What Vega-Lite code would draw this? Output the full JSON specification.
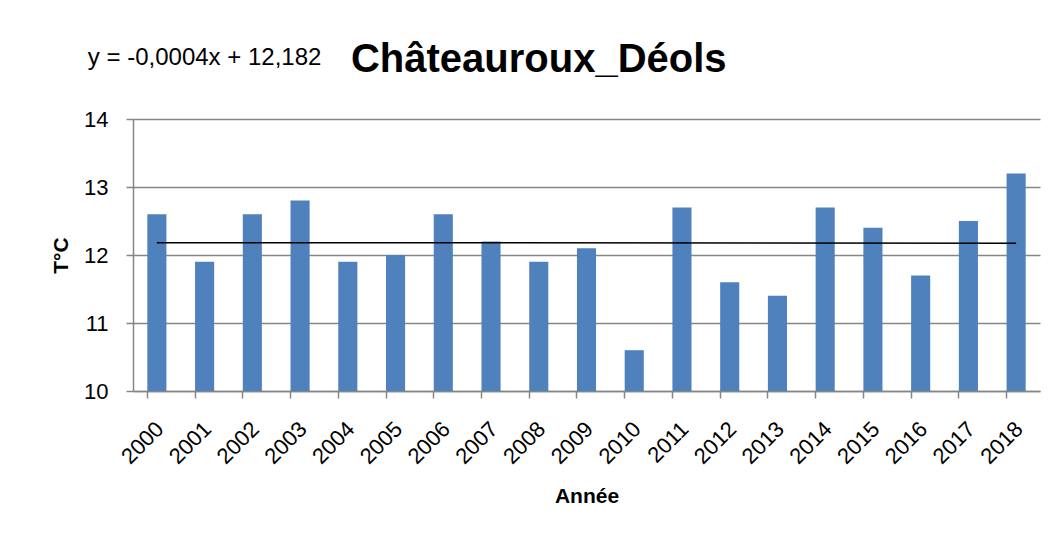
{
  "$schema": "https://vega.github.io/schema/vega-lite/v6.json",
  "width": 907,
  "height": 272,
  "autosize": {"type": "none"},
  "padding": {"left": 133, "top": 119, "right": 22, "bottom": 149},
  "background": "white",
  "datasets": {
    "temps": [
      {"annee": "2000", "t": 12.6},
      {"annee": "2001", "t": 11.9},
      {"annee": "2002", "t": 12.6},
      {"annee": "2003", "t": 12.8},
      {"annee": "2004", "t": 11.9},
      {"annee": "2005", "t": 12.0},
      {"annee": "2006", "t": 12.6},
      {"annee": "2007", "t": 12.2},
      {"annee": "2008", "t": 11.9},
      {"annee": "2009", "t": 12.1},
      {"annee": "2010", "t": 10.6},
      {"annee": "2011", "t": 12.7},
      {"annee": "2012", "t": 11.6},
      {"annee": "2013", "t": 11.4},
      {"annee": "2014", "t": 12.7},
      {"annee": "2015", "t": 12.4},
      {"annee": "2016", "t": 11.7},
      {"annee": "2017", "t": 12.5},
      {"annee": "2018", "t": 13.2}
    ],
    "trend": [
      {"annee": "2000", "t": 12.1816},
      {"annee": "2018", "t": 12.1744}
    ],
    "eq": [
      {"annee": "2001", "t": 14.9, "label": "y = -0,0004x + 12,182"}
    ],
    "titre": [
      {"annee": "2008", "t": 14.87, "label": "Châteauroux_Déols"}
    ]
  },
  "config": {
    "view": {"stroke": null},
    "font": "Liberation Sans"
  },
  "layer": [
    {
      "data": {"name": "temps"},
      "mark": {"type": "bar", "color": "#4F81BD"},
      "encoding": {
        "x": {
          "field": "annee",
          "type": "ordinal",
          "scale": {"paddingInner": 0.6, "paddingOuter": 0.3},
          "axis": {
            "title": "Année",
            "titleFont": "Liberation Sans",
            "titleFontSize": 21,
            "titleFontWeight": "bold",
            "titleColor": "black",
            "titlePadding": 18,
            "labelAngle": -45,
            "labelFont": "Liberation Sans",
            "labelFontSize": 22,
            "labelColor": "black",
            "labelPadding": 20,
            "labelOffset": -4,
            "domainColor": "#868686",
            "domainWidth": 1.5,
            "tickColor": "#868686",
            "tickWidth": 1.5,
            "tickSize": 7,
            "bandPosition": 0,
            "grid": false
          }
        },
        "y": {
          "field": "t",
          "type": "quantitative",
          "scale": {"domain": [10, 14], "nice": false, "zero": false},
          "axis": {
            "title": "T°C",
            "titleFont": "Liberation Sans",
            "titleFontSize": 21,
            "titleFontWeight": "bold",
            "titleColor": "black",
            "titlePadding": 12,
            "values": [10, 11, 12, 13, 14],
            "format": "d",
            "labelFont": "Liberation Sans",
            "labelFontSize": 22,
            "labelColor": "black",
            "labelPadding": 18,
            "domainColor": "#868686",
            "domainWidth": 1.5,
            "tickColor": "#868686",
            "tickWidth": 1.5,
            "tickSize": 7,
            "grid": true,
            "gridColor": "#868686",
            "gridWidth": 1.5
          }
        },
        "y2": {"datum": 10}
      }
    },
    {
      "data": {"name": "trend"},
      "mark": {"type": "line", "color": "black", "strokeWidth": 1.5},
      "encoding": {
        "x": {"field": "annee", "type": "ordinal"},
        "y": {"field": "t", "type": "quantitative"}
      }
    },
    {
      "data": {"name": "eq"},
      "mark": {"type": "text", "fontSize": 24, "font": "Liberation Sans", "color": "black", "align": "center", "baseline": "middle", "clip": false},
      "encoding": {
        "x": {"field": "annee", "type": "ordinal"},
        "y": {"field": "t", "type": "quantitative"},
        "text": {"field": "label"}
      }
    },
    {
      "data": {"name": "titre"},
      "mark": {"type": "text", "fontSize": 40, "fontWeight": "bold", "font": "Liberation Sans", "color": "black", "align": "center", "baseline": "middle", "clip": false},
      "encoding": {
        "x": {"field": "annee", "type": "ordinal"},
        "y": {"field": "t", "type": "quantitative"},
        "text": {"field": "label"}
      }
    }
  ]
}
